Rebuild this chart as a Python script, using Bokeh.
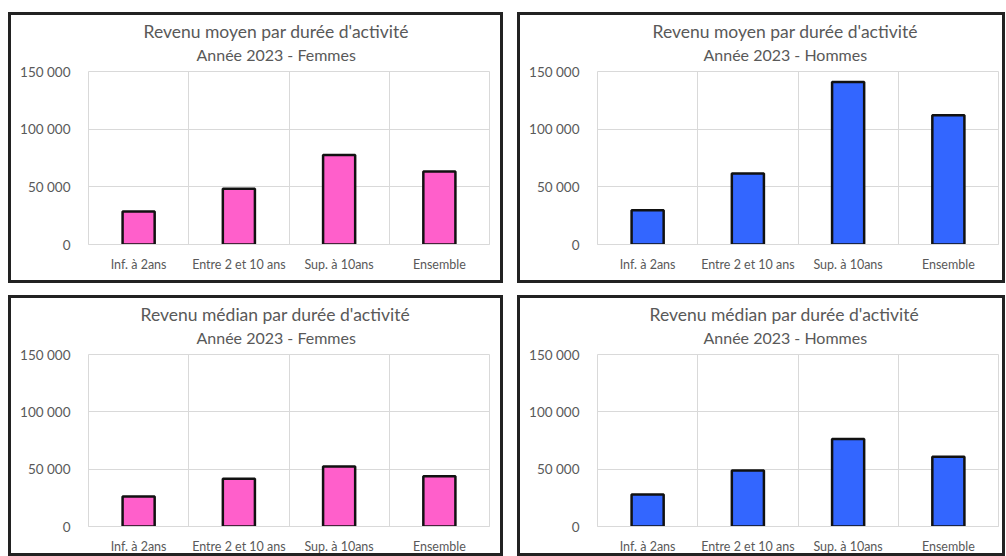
import numpy as np
from bokeh.plotting import figure
from bokeh.layouts import column, row
from bokeh.models import Title, FixedTicker, ColumnDataSource
from bokeh.embed import file_html
from bokeh.resources import INLINE

categories = ["Inf. à 2ans", "Entre 2 et 10 ans", "Sup. à 10ans", "Ensemble"]
moyen_femmes = [28600, 48300, 77700, 63300]
moyen_hommes = [29700, 61500, 141000, 112100]
median_femmes = [26200, 41600, 52300, 43900]
median_hommes = [27800, 48800, 76300, 60800]
y_ticks = [0, 50000, 100000, 150000]
y_tick_labels = ["0", "50 000", "100 000", "150 000"]
title_moyen = "Revenu moyen par durée d'activité"
title_median = "Revenu médian par durée d'activité"
sub_femmes = "Année 2023 - Femmes"
sub_hommes = "Année 2023 - Hommes"

PINK = "#FF5FCB"
BLUE = "#3366FF"
FONT = "Lato"
TEXT = "#595959"
GRID = "#d9d9d9"


def panel(values, title, subtitle, color, width, height, margin, right, bottom,
          title_off, sub_off):
    x = [i + 0.5 for i in range(len(categories))]
    src = ColumnDataSource(dict(x=x, top=values, cat=categories))
    p = figure(width=width, height=height, x_range=(0, len(categories)),
               y_range=(0, 150000), output_backend="svg", toolbar_location=None,
               title=None, min_border_left=77, min_border_right=right,
               min_border_top=56, min_border_bottom=bottom,
               margin=margin,
               styles={"border": "3px solid #222222", "box-sizing": "content-box"})
    p.add_layout(Title(text=subtitle, align="left", offset=sub_off, text_font=FONT,
                       text_font_size="16px", text_font_style="normal",
                       text_color=TEXT, standoff=16), "above")
    p.add_layout(Title(text=title, align="left", offset=title_off, text_font=FONT,
                       text_font_size="17.5px", text_font_style="normal",
                       text_color=TEXT, standoff=-15), "above")
    p.vbar(x="x", top="top", width=0.32, bottom=0, source=src,
           fill_color=color, line_color="#111111", line_width=2.5)
    p.outline_line_color = GRID
    p.outline_line_width = 1
    p.background_fill_color = "white"
    p.border_fill_color = "white"
    # y axis
    p.yaxis.ticker = FixedTicker(ticks=y_ticks)
    p.yaxis.major_label_overrides = {t: l for t, l in zip(y_ticks, y_tick_labels)}
    p.yaxis.axis_line_color = None
    p.yaxis.major_tick_line_color = None
    p.yaxis.minor_tick_line_color = None
    p.yaxis.major_label_standoff = 12
    p.yaxis.major_label_text_font = FONT
    p.yaxis.major_label_text_font_size = "13.5px"
    p.yaxis.major_label_text_color = TEXT
    # x axis
    p.xaxis.ticker = FixedTicker(ticks=x)
    p.xaxis.major_label_overrides = {xx: c for xx, c in zip(x, categories)}
    p.xaxis.axis_line_color = GRID
    p.xaxis.major_tick_line_color = None
    p.xaxis.minor_tick_line_color = None
    p.xaxis.major_label_standoff = 6
    p.xaxis.major_label_text_font = FONT
    p.xaxis.major_label_text_font_size = "12.5px"
    p.xaxis.major_label_text_color = TEXT
    # grids
    p.xgrid.ticker = FixedTicker(ticks=list(range(len(categories) + 1)))
    p.xgrid.grid_line_color = GRID
    p.ygrid.ticker = FixedTicker(ticks=y_ticks)
    p.ygrid.grid_line_color = GRID
    return p


p1 = panel(moyen_femmes, title_moyen, sub_femmes, PINK, 489, 265, (12, 0, 0, 8), 17, 42, 55, 108)
p2 = panel(moyen_hommes, title_moyen, sub_hommes, BLUE, 482, 265, (12, 0, 0, 14), 10, 42, 55, 106)
p3 = panel(median_femmes, title_median, sub_femmes, PINK, 489, 255, (12, 0, 0, 8), 17, 33, 52, 108)
p4 = panel(median_hommes, title_median, sub_hommes, BLUE, 482, 255, (12, 0, 0, 14), 10, 33, 52, 106)

layout = column(row(p1, p2), row(p3, p4))
open("out.html", "w").write(file_html(layout, INLINE))
